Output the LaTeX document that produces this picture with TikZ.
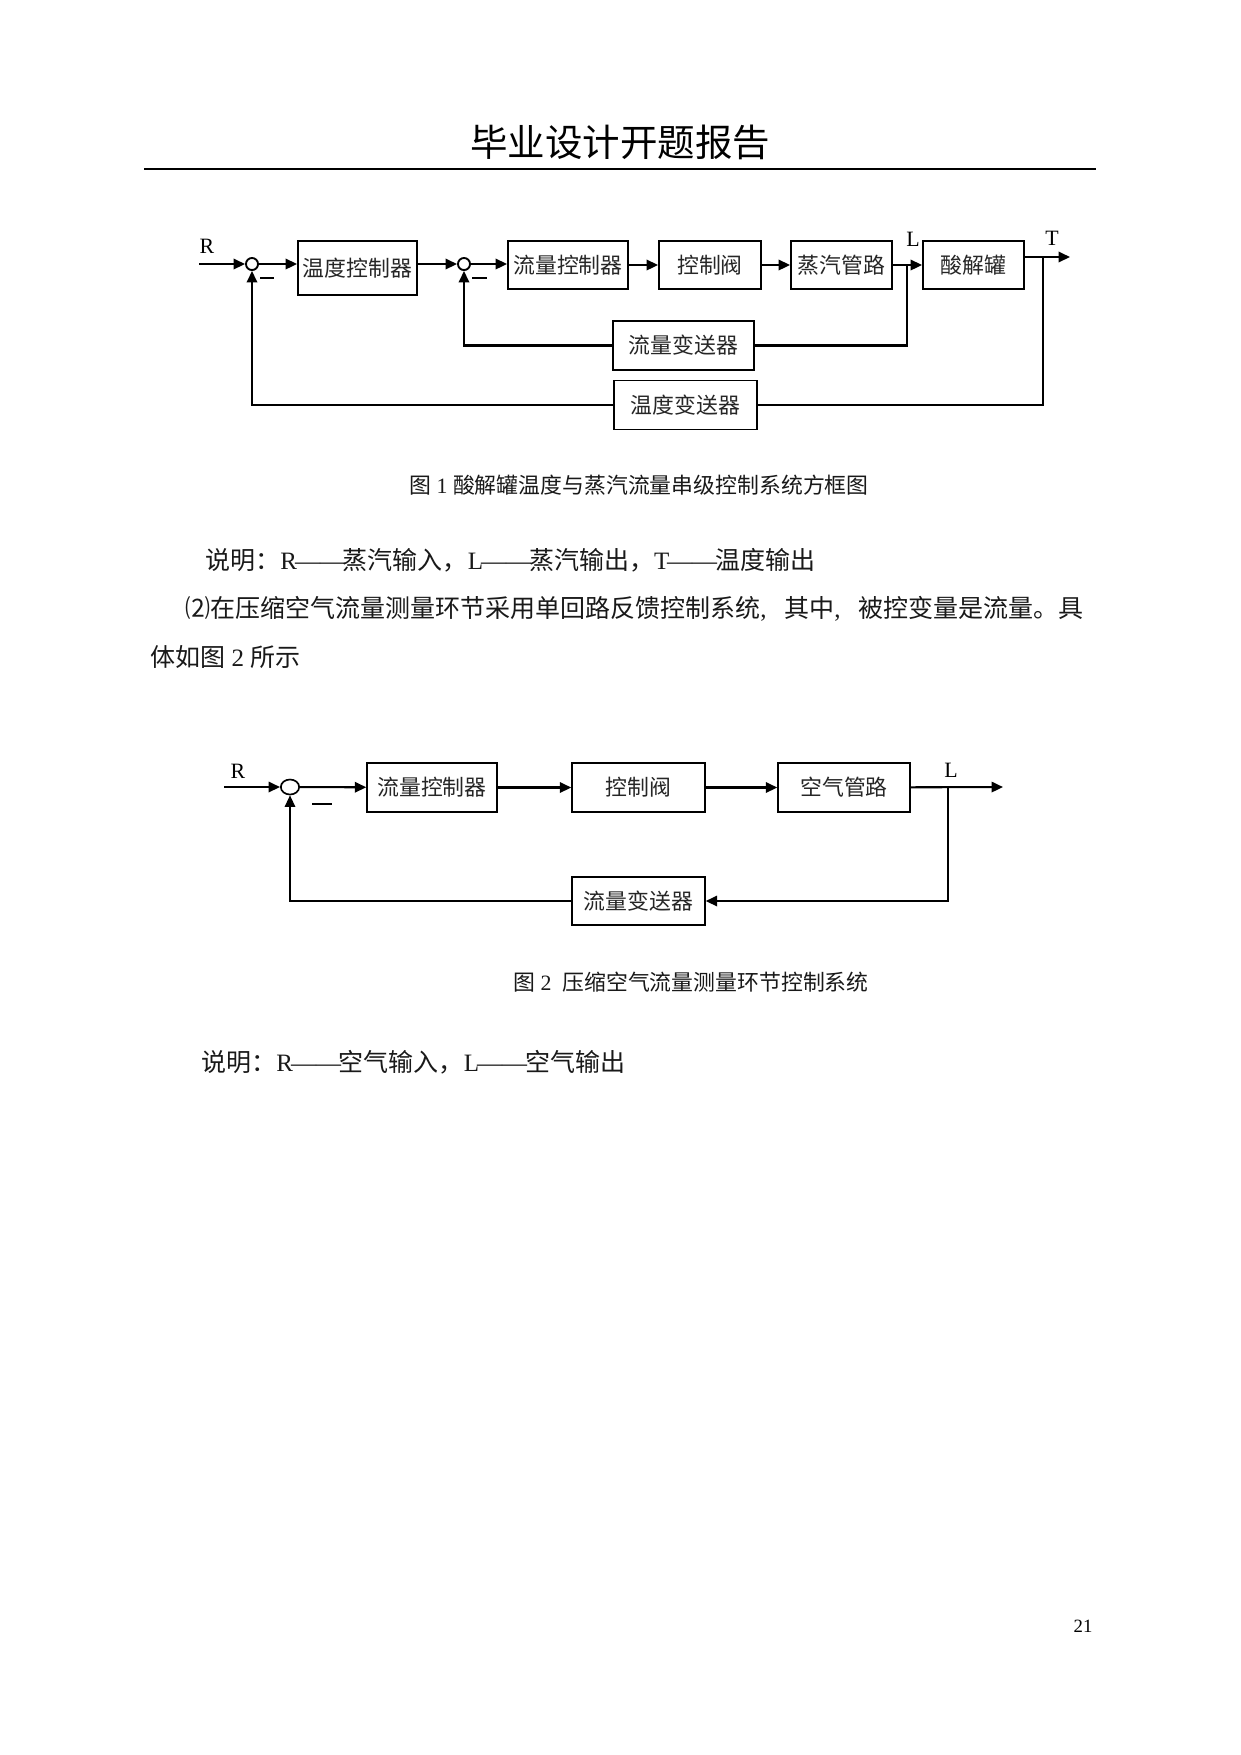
\documentclass[tikz,border=0pt]{standalone}
\usepackage{fontspec}
\setmainfont{Liberation Serif}
\newfontfamily\cjk{Noto Sans CJK SC}
\newcommand\dd{\kern-1pt——\kern-1pt}
\usetikzlibrary{arrows.meta,shapes.geometric}
\begin{document}
\begin{tikzpicture}[x=0.48pt,y=-0.48pt,
  bsz/.style 2 args={minimum width=#1*0.48pt,minimum height=#2*0.48pt},
  blk/.style={draw,line width=0.9pt,inner sep=0pt,text=black!85,font=\fontsize{10.5}{12}\selectfont\cjk},
  blkb/.style={draw,line width=0.7pt,inner sep=0pt,text=black!85,font=\fontsize{10.5}{12}\selectfont\cjk},
  sumc/.style={draw,circle,line width=0.9pt,inner sep=0pt,minimum size=5.8pt},
  sume/.style={draw,ellipse,line width=0.8pt,inner sep=0pt,minimum width=8.8pt,minimum height=7.2pt},
  arr/.style={-{Triangle[length=5.5pt,width=5pt]}},
  ln/.style={line width=1pt},
  lnb/.style={line width=0.7pt},
  lbl/.style={inner sep=0pt,font=\fontsize{10.5}{12}\selectfont},
  txt/.style={inner sep=0pt,anchor=west,text=black!90,font=\fontsize{12}{14}\selectfont},
  capt/.style={inner sep=0pt,text=black!90,font=\fontsize{10.5}{12}\selectfont}]
\fill[white] (0,0) rectangle (1241,1755);
\useasboundingbox (0,0) rectangle (1241,1755);

% header
\node[inner sep=0pt,font=\fontsize{18}{20}\selectfont\cjk] (title) at (620,142) {毕业设计开题报告};
\draw[line width=0.7pt] (144,169) -- (1096,169);

% ---------- Figure 1 ----------
\node[sumc] (s1) at (252,264) {};
\node[blk,bsz={119}{54}] (tc) at (357.5,268) {温度控制器};
\node[sumc] (s2) at (464,264) {};
\node[blk,bsz={120}{48}] (fc) at (568,265) {流量控制器};
\node[blk,bsz={102}{48}] (cv) at (710,265) {控制阀};
\node[blk,bsz={101}{48}] (sp) at (841.5,265) {蒸汽管路};
\node[blk,bsz={101}{48}] (tk) at (973.5,265) {酸解罐};
\node[blk,bsz={141}{49}] (ft) at (683.5,345.5) {流量变送器};
\node[blk,bsz={143}{49}] (tt) at (685.5,405) {温度变送器};

\node[lbl] (R1) at (207,246) {R};
\node[lbl] (L1) at (913,239) {L};
\node[lbl] (T1) at (1052,238) {T};
\node[inner sep=0pt] (m1) at (267,278) {\rule{6.7pt}{0.9pt}};
\node[inner sep=0pt] (m2) at (479.5,278) {\rule{7pt}{0.9pt}};

\coordinate (in1) at (199,264);
\coordinate (jL) at (907,265);
\coordinate (out1) at (1070,257);
\coordinate (jT) at (1043,257);

\draw[ln,arr] (in1) -- (s1);
\draw[ln,arr] (s1) -- (s1 -| tc.west);
\draw[ln,arr] (tc.east |- s2) -- (s2);
\draw[ln,arr] (s2) -- (s2 -| fc.west);
\draw[ln,arr] (fc) -- (cv);
\draw[ln,arr] (cv) -- (sp);
\draw[ln,arr] (sp) -- (tk);
\draw[ln] (jL) |- (ft);
\draw[ln,arr] (ft) -| (s2);
\draw[ln,arr] (tk.east |- out1) -- (out1);
\draw[ln] (jT) |- (tt);
\draw[ln,arr] (tt) -| (s1);

\node[capt] (c1) at (639,485) {{\cjk 图} 1 {\cjk 酸解罐温度与蒸汽流量串级控制系统方框图}};

% ---------- text ----------
\node[txt] (d1) at (205,560) {{\cjk 说明：}R\dd{\cjk 蒸汽输入，}L\dd{\cjk 蒸汽输出，}T\dd{\cjk 温度输出}};
\node[txt] (d2) at (185,609) {\hbox to 431pt{{\cjk ⑵在压缩空气流量测量环节采用单回路反馈控制系统}, {\cjk 其中}, {\cjk 被控变量是流量。具}}};
\node[txt] (d3) at (150,657) {{\cjk 体如图} 2 {\cjk 所示}};

% ---------- Figure 2 ----------
\node[sume] (s3) at (290,787) {};
\node[blkb,bsz={130}{49}] (fc2) at (432,787.5) {流量控制器};
\node[blkb,bsz={133}{49}] (cv2) at (638.5,787.5) {控制阀};
\node[blkb,bsz={132}{49}] (ap) at (844,787.5) {空气管路};
\node[blkb,bsz={133}{48}] (ft2) at (638.5,901) {流量变送器};

\node[lbl] (R2) at (238,771) {R};
\node[lbl] (L2) at (951,770) {L};
\node[inner sep=0pt] (m3) at (322,804) {\rule{9.6pt}{0.6pt}};

\coordinate (in2) at (224,787);
\coordinate (out2) at (1003,787);
\coordinate (jA) at (948,787);

\draw[ln,arr] (in2) -- (s3);
\draw[ln,arr] (s3) -- (fc2);
\draw[ln,arr] (fc2) -- (cv2);
\draw[ln,arr] (cv2) -- (ap);
\draw[ln,arr] (ap) -- (out2);
\draw[ln,arr] (jA) |- (ft2);
\draw[lnb,arr] (ft2) -| (s3);

\node[capt] (c2) at (691,982) {{\cjk 图} 2\ \ {\cjk 压缩空气流量测量环节控制系统}};
\node[txt] (d4) at (201,1062) {{\cjk 说明：}R\dd{\cjk 空气输入，}L\dd{\cjk 空气输出}};

\node[inner sep=0pt,font=\fontsize{9}{10}\selectfont] (pg) at (1083,1626) {21};
\end{tikzpicture}
\end{document}
